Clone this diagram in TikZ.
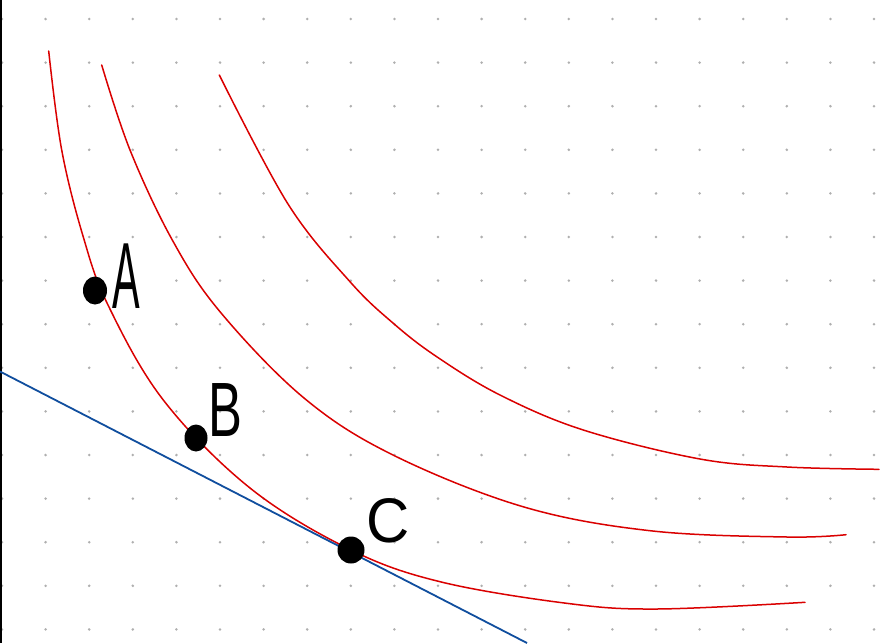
\documentclass[tikz,border=0pt]{standalone}
\usepackage{fontspec}
\setmainfont{Liberation Sans}
\definecolor{gridgray}{RGB}{175,175,175}
\definecolor{curvered}{RGB}{218,0,0}
\definecolor{budgetblue}{RGB}{16,78,158}
\tikzset{
  griddot/.style={fill=gridgray},
  icurve/.style={draw=curvered, line width=1.5pt, line cap=round},
  budget/.style={draw=budgetblue, line width=1.8pt},
  bigdot/.style={fill=black, draw=none},
  lbl/.style={inner sep=0pt, text=black},
}
\begin{document}
\begin{tikzpicture}[x=1pt,y=-1pt]
\fill[white] (0,0) rectangle (883,643);
\useasboundingbox (0,0) rectangle (883,643);
% dotted grid
\foreach \i in {0,...,20}{
  \foreach \j in {0,...,14}{
    \fill[griddot] ({2+43.6*\i},{19+43.6*\j}) circle (1.4);
  }
}
% vertical axis
\draw[black, line width=2pt] (1,0) -- (1,643);
% indifference curves
\draw[icurve] plot[smooth, tension=0.6] coordinates {
  (48.7,51) (61.7,150) (83.3,237) (108,305) (163.3,400) (250,488)
  (350,549.5) (440,581.7) (566.7,603.3) (656.7,609) (805,602.3)};
\draw[icurve] plot[smooth, tension=0.6] coordinates {
  (101.7,65) (130,150) (172.3,240) (220,311.7) (304,398) (393,455)
  (523,506.7) (650,530.7) (787,537) (846,534.7)};
\draw[icurve] plot[smooth, tension=0.6] coordinates {
  (219.3,75) (288,204) (350,281.7) (393.3,323.3)
  (436.7,356.7) (500,395) (583.3,430) (700,459) (787,467) (879,469.3)};
% budget line
\coordinate (b0) at (0,371.5);
\coordinate (b1) at (527,643);
\draw[budget] (b0) -- (b1);
% points
\fill[bigdot] (95,290.5) ellipse (12 and 14);
\node[inner sep=0pt, minimum size=0pt] (A) at (95,290.5) {};
\fill[bigdot] (196,438) ellipse (11.5 and 13.5);
\node[inner sep=0pt, minimum size=0pt] (B) at (196,438) {};
\fill[bigdot] (351,550) circle (13.5);
\node[inner sep=0pt, minimum size=0pt] (C) at (351,550) {};
% labels
\node[lbl, font=\fontsize{94}{94}\selectfont] (la) at (126.5,276.5) {\scalebox{0.44}[1]{A}};
\node[lbl, font=\fontsize{77}{77}\selectfont] (lb) at (225,410.5) {\scalebox{0.66}[1]{B}};
\node[lbl, font=\fontsize{63}{63}\selectfont] (lc) at (388.5,520.5) {\scalebox{0.95}[1]{C}};
\end{tikzpicture}
\end{document}
